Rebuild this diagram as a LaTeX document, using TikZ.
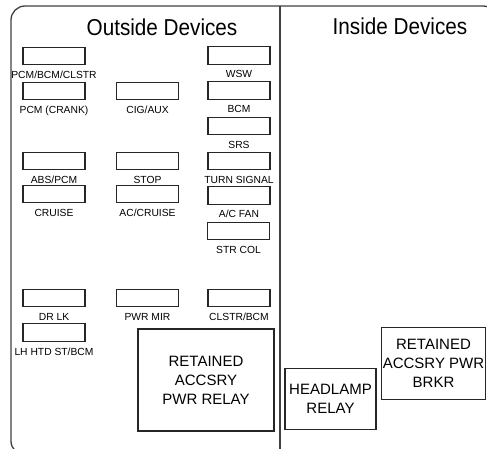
\documentclass[tikz,border=0pt]{standalone}
\usepackage{fontspec}
\setmainfont{Liberation Sans}
\usetikzlibrary{positioning}

\begin{document}
\begin{tikzpicture}[
  x=1pt, y=-1pt,
  fuse/.style={rectangle, draw=black!85, line width=1.1pt,
               minimum width=62pt, minimum height=17.5pt, inner sep=0pt},
  lbl/.style={inner sep=0pt, text height=7pt, text depth=0pt,
              font=\fontsize{10.3}{12}\selectfont},
  relay/.style={rectangle, draw=black!85, line width=1.1pt, inner sep=0pt,
                align=center, font=\fontsize{15}{19}\selectfont},
  ttl/.style={anchor=base, inner sep=0pt, font=\fontsize{23}{26}\selectfont},
  frame/.style={draw=black!75, line width=1.3pt},
]
  \useasboundingbox (0,0) rectangle (487,449);
  \clip (0,0) rectangle (487,449);
  \draw[frame, rounded corners=14pt] (11,6) rectangle (497,455);
  \coordinate (divtop) at (280,6);
  \coordinate (divbot) at (280,449);
  \draw[frame] (divtop) -- (divbot);

  \node[ttl] (outside) at (162,36) {\scalebox{0.9}[1]{Outside Devices}};
  \node[ttl] (inside)  at (400,35) {\scalebox{0.9}[1]{Inside Devices}};

  % left column
  \node[fuse] (pcmclstr) at (54,56) {};
  \node[lbl, below=6pt of pcmclstr] (pcmclstrL) {PCM/BCM/CLSTR};
  \node[fuse] (pcmcrank) at (54,91) {};
  \node[lbl, below=6pt of pcmcrank] (pcmcrankL) {PCM (CRANK)};
  \node[fuse] (abspcm) at (54,161) {};
  \node[lbl, below=6pt of abspcm] (abspcmL) {ABS/PCM};
  \node[fuse] (cruise) at (54,194) {};
  \node[lbl, below=6pt of cruise] (cruiseL) {CRUISE};
  \node[fuse] (drlk) at (54,298) {};
  \node[lbl, below=6pt of drlk] (drlkL) {DR LK};
  \node[fuse] (lhhtd) at (54,332.5) {};
  \node[lbl, below=6pt of lhhtd] (lhhtdL) {LH HTD ST/BCM};

  % middle column
  \node[fuse] (cigaux) at (147.5,91) {};
  \node[lbl, below=6pt of cigaux] (cigauxL) {CIG/AUX};
  \node[fuse] (stop) at (147.5,161) {};
  \node[lbl, below=6pt of stop] (stopL) {STOP};
  \node[fuse] (accruise) at (147.5,194) {};
  \node[lbl, below=6pt of accruise] (accruiseL) {AC/CRUISE};
  \node[fuse] (pwrmir) at (147.5,298) {};
  \node[lbl, below=6pt of pwrmir] (pwrmirL) {PWR MIR};

  % right column
  \node[fuse] (wsw) at (239,55.5) {};
  \node[lbl, below=6pt of wsw] (wswL) {WSW};
  \node[fuse] (bcm) at (239,90.5) {};
  \node[lbl, below=6pt of bcm] (bcmL) {BCM};
  \node[fuse] (srs) at (239,126) {};
  \node[lbl, below=6pt of srs] (srsL) {SRS};
  \node[fuse] (turnsig) at (239,161) {};
  \node[lbl, below=6pt of turnsig] (turnsigL) {TURN SIGNAL};
  \node[fuse] (acfan) at (239,195.5) {};
  \node[lbl, below=6pt of acfan] (acfanL) {A/C FAN};
  \node[fuse] (strcol) at (238.5,231) {};
  \node[lbl, below=6pt of strcol] (strcolL) {STR COL};
  \node[fuse] (clstrbcm) at (239,298) {};
  \node[lbl, below=6pt of clstrbcm] (clstrbcmL) {CLSTR/BCM};

  % relays
  \node[relay, minimum width=136pt, minimum height=102pt] (accrelay) at (206,380)
    {RETAINED\\ACCSRY\\PWR RELAY};
  \node[relay, minimum width=91pt, minimum height=61pt] (hdlrelay) at (330.5,398.8)
    {HEADLAMP\\RELAY};
  \node[relay, minimum width=104pt, minimum height=72pt] (accbrkr) at (433.5,363.5)
    {RETAINED\\ACCSRY PWR\\BRKR};
\end{tikzpicture}
\end{document}
